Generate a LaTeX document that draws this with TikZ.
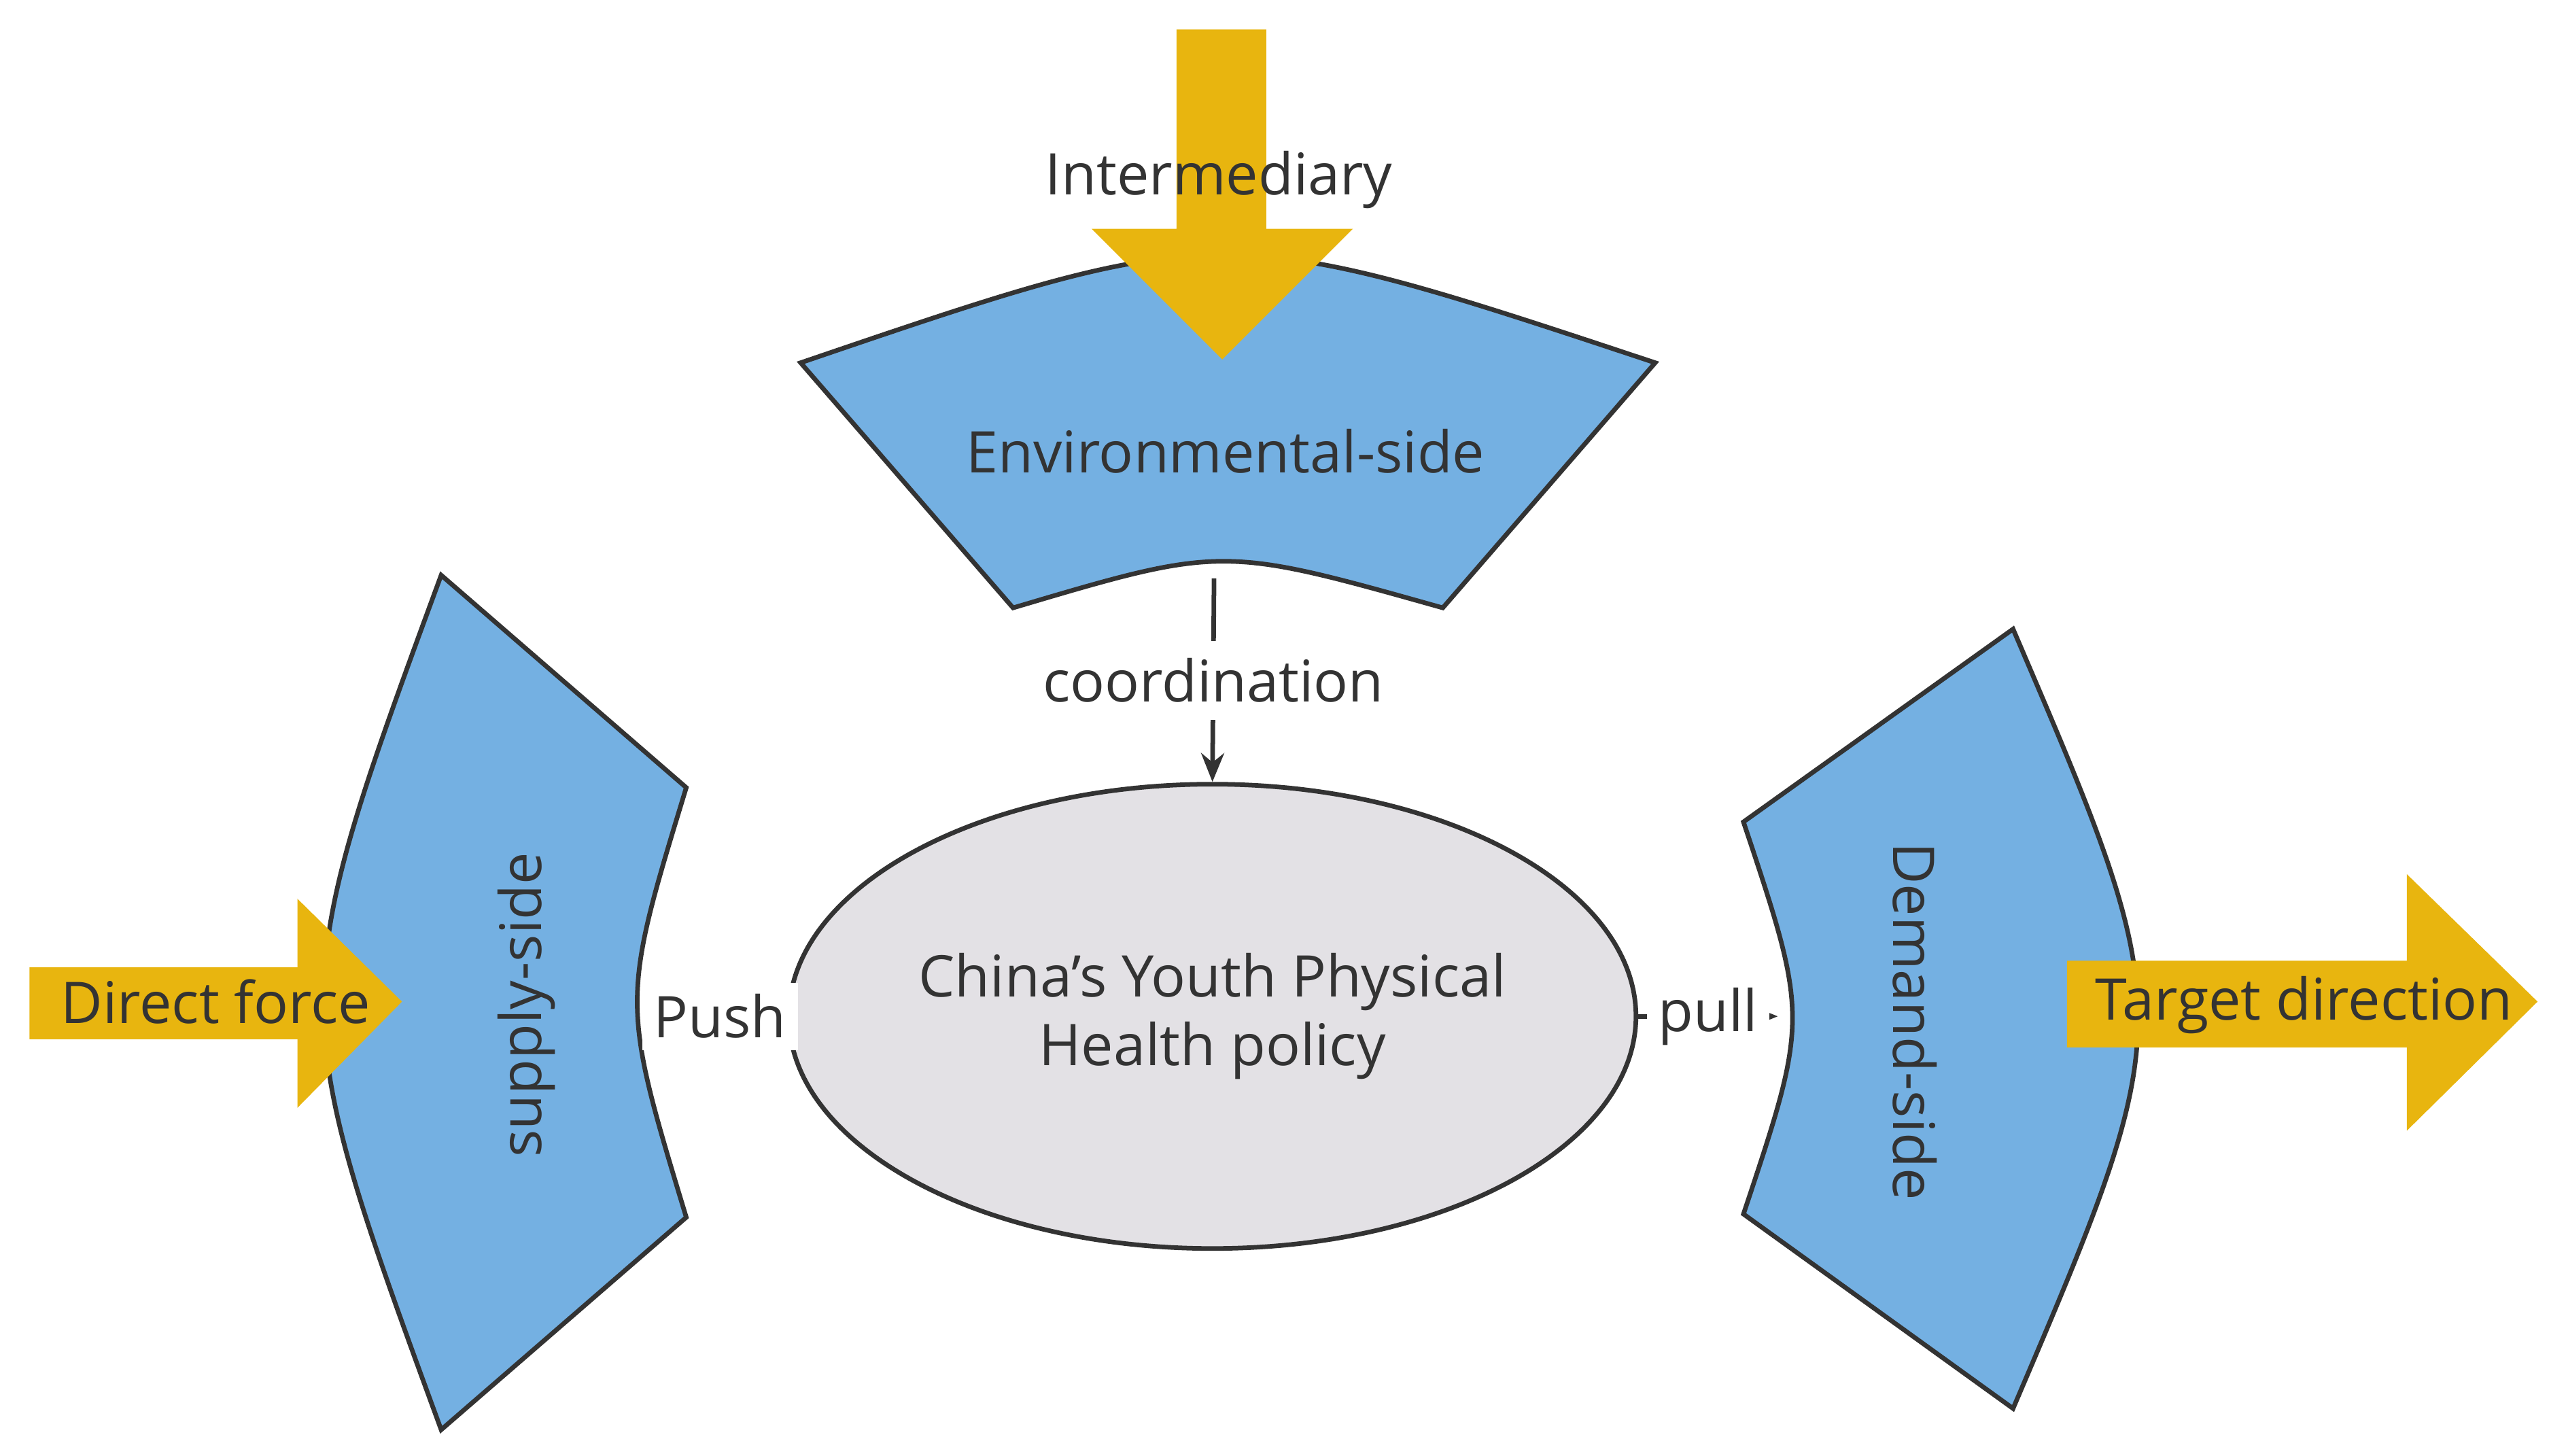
\documentclass[tikz,border=0pt]{standalone}
\usepackage{fontspec}
\setmainfont{Open Sans}
\usetikzlibrary{arrows.meta,shapes.geometric}
\definecolor{sideblue}{HTML}{74B0E2}
\definecolor{forcegold}{HTML}{E8B50F}
\definecolor{coregray}{HTML}{E3E1E5}
\definecolor{inkgray}{HTML}{333333}
\tikzset{
  side/.style={draw=inkgray,line width=0.8pt,fill=sideblue},
  force/.style={fill=forcegold},
  lbl/.style={text=inkgray,font=\fontsize{10}{12}\selectfont,inner sep=1pt},
  link/.style={draw=inkgray,line width=0.8pt,-{Stealth[length=5pt,width=4pt]}}
}
\begin{document}
\begin{tikzpicture}[x=0.01cm,y=-0.01cm]
\useasboundingbox (0,0) rectangle (1560,891);
% three sides
\path[side] (490,222) .. controls (748,134) .. (1013,222)
 -- (883,372) .. controls (748,334) .. (620,372) -- cycle;
\path[side] (270,352) .. controls (174,613) .. (270,875)
 -- (420,745) .. controls (380,613) .. (420,482) -- cycle;
\path[side] (1232,385) .. controls (1334,623) .. (1232,862)
 -- (1067,743) .. controls (1107,623) .. (1067,503) -- cycle;
% core
\node[draw=inkgray,line width=0.8pt,fill=coregray,ellipse,minimum width=4cm,minimum height=2.84cm,
  inner sep=0pt,align=center,lbl] (policy) at (742,622)
  {China's Youth Physical\\Health policy};
% forces
\path[force] (720,18) -- (775,18) -- (775,140) -- (828,140) -- (748,220)
 -- (668,140) -- (720,140) -- cycle;
\path[force] (18,592) -- (182,592) -- (182,550) -- (246,613)
 -- (182,678) -- (182,636) -- (18,636) -- cycle;
\path[force] (1265,588) -- (1473,588) -- (1473,535) -- (1553,613)
 -- (1473,692) -- (1473,641) -- (1265,641) -- cycle;
% labels
\node[lbl] (inter) at (746,110) {Intermediary};
\node[lbl] (env) at (750,276) {Environmental-side};
\node[lbl,rotate=90] (supply) at (322,615) {supply-side};
\node[lbl,rotate=-90] (demand) at (1172,625) {Demand-side};
\node[lbl] (direct) at (132,613) {Direct force};
\node[lbl] (target) at (1410,615) {Target direction};
\coordinate (envbot) at (743,354);
\coordinate (supplyin) at (400,622);
\coordinate (demandin) at (1088,622);
% links
\draw[link] (envbot) -- node[lbl,fill=white,inner sep=3pt] (coord) {coordination} (policy.north);
\draw[link] (supplyin) -- node[lbl,fill=white,inner sep=2pt] (push) {Push} (policy.west);
\draw[link] (policy.east) -- node[lbl,fill=white,inner sep=2pt] (pull) {pull} (demandin);
\end{tikzpicture}
\end{document}
